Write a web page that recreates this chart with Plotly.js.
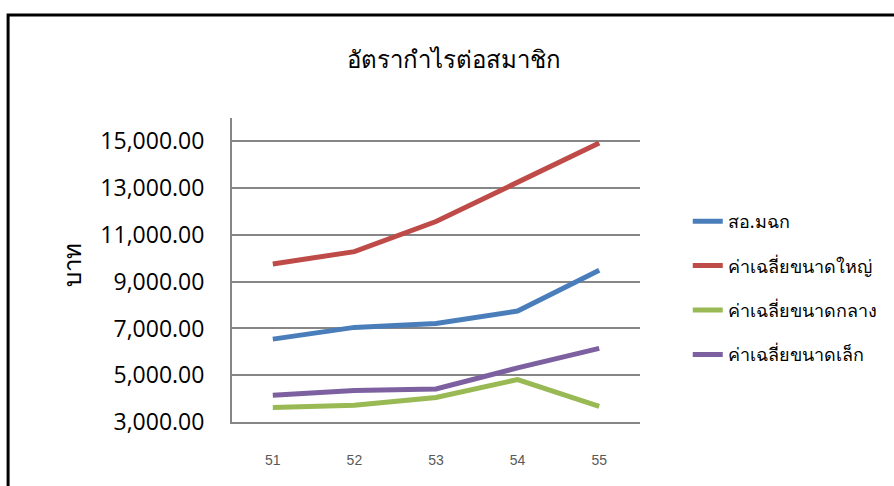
<!DOCTYPE html>
<html>
<head>
<meta charset="utf-8">
<script src="https://cdn.plot.ly/plotly-3.0.1.min.js"></script>
<style>
html,body{margin:0;padding:0;background:#fff;}
#chart{width:894px;height:486px;}
</style>
</head>
<body>
<div id="chart"></div>
<script>
const categories = ['51', '52', '53', '54', '55'];
const seriesNames = ['สอ.มฉก', 'ค่าเฉลี่ยขนาดใหญ่', 'ค่าเฉลี่ยขนาดกลาง', 'ค่าเฉลี่ยขนาดเล็ก'];
const soMok = [6545, 7046, 7217, 7745, 9489];
const avgLarge = [9759, 10286, 11571, 13243, 14932];
const avgMedium = [3617, 3716, 4046, 4817, 3673];
const avgSmall = [4144, 4346, 4414, 5314, 6146];
const colors = ['#4A7EBB', '#BE4B48', '#98B954', '#7D60A0'];
const chartTitle = 'อัตรากำไรต่อสมาชิก';
const yTitle = 'บาท';

const allValues = [soMok, avgLarge, avgMedium, avgSmall];
const traces = allValues.map((v, i) => ({
  type: 'scatter',
  mode: 'lines',
  x: categories,
  y: v,
  name: seriesNames[i],
  legendgroup: 'g' + i,
  line: {color: colors[i], width: 5}
}));

const L = 232, R = 642, T = 118, B = 422;
const W = 894, H = 486;
const px = v => (v - L) / (R - L);
const py = v => (B - v) / (B - T);

const layout = {
  width: W, height: H,
  margin: {l: L, r: W - R, t: T, b: H - B, pad: 0},
  paper_bgcolor: '#ffffff',
  plot_bgcolor: '#ffffff',
  showlegend: true,
  title: {
    text: chartTitle,
    font: {family: 'Noto Sans, sans-serif', size: 24, color: '#000'},
    xref: 'paper', x: px(455), xanchor: 'center',
    yref: 'container', y: 1 - 60 / H, yanchor: 'middle'
  },
  xaxis: {
    type: 'category',
    range: [-0.5, 4.5],
    showgrid: false,
    showline: true, linecolor: '#868686', linewidth: 2,
    ticks: '',
    ticklabelstandoff: 24,
    tickfont: {family: 'Liberation Sans, Arial, sans-serif', size: 14, color: '#595959'},
    zeroline: false, fixedrange: true
  },
  yaxis: {
    range: [3000, 16000],
    tick0: 3000, dtick: 2000,
    tickformat: ',.2f',
    showgrid: true, gridcolor: '#868686', gridwidth: 2,
    showline: true, linecolor: '#868686', linewidth: 2,
    ticks: '',
    ticklabelstandoff: 21,
    tickfont: {family: 'Open Sans, sans-serif', size: 23, color: '#000'},
    zeroline: false, fixedrange: true
  },
  legend: {
    x: px(690), xanchor: 'left',
    y: py(203), yanchor: 'top',
    font: {family: 'Noto Sans, sans-serif', size: 18, color: '#000'},
    tracegroupgap: 18,
    bgcolor: 'rgba(0,0,0,0)',
    itemwidth: 30
  },
  annotations: [{
    text: yTitle,
    xref: 'paper', yref: 'paper',
    x: px(70), y: py(265),
    xanchor: 'center', yanchor: 'middle',
    textangle: -90,
    showarrow: false,
    font: {family: 'Noto Sans, sans-serif', size: 24, color: '#000'}
  }],
  shapes: [{
    type: 'rect', xref: 'paper', yref: 'paper',
    x0: px(7), x1: px(905), y0: py(500), y1: py(15),
    line: {color: '#000', width: 3}, fillcolor: 'rgba(0,0,0,0)', layer: 'above'
  }]
};

Plotly.newPlot('chart', traces, layout, {displayModeBar: false, staticPlot: true});
</script>
</body>
</html>
